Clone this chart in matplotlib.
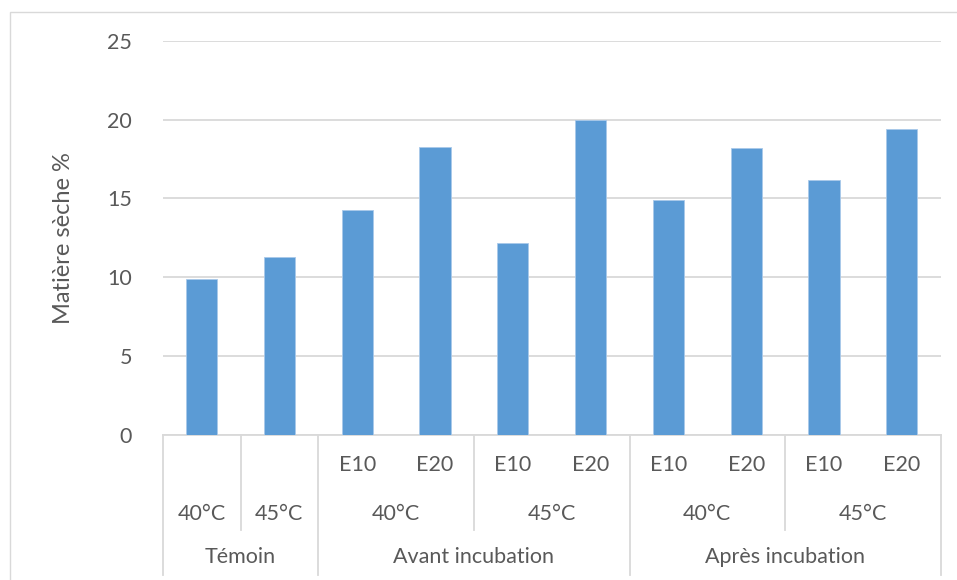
import matplotlib
matplotlib.use("Agg")
import matplotlib.pyplot as plt
from matplotlib.lines import Line2D
from matplotlib.patches import Rectangle

plt.rcParams['font.family'] = ['Lato', 'DejaVu Sans']

# Dry-matter content per sample
values = [9.9, 11.3, 14.3, 18.3, 12.2, 20.0, 14.9, 18.2, 16.2, 19.4]
level1 = ["", "", "E10", "E20", "E10", "E20", "E10", "E20", "E10", "E20"]
level2 = ["40°C", "45°C", "40°C", "45°C", "40°C", "45°C"]
level2_span = [(0, 1), (1, 2), (2, 4), (4, 6), (6, 8), (8, 10)]
level3 = ["Témoin", "Avant incubation", "Après incubation"]
level3_span = [(0, 2), (2, 6), (6, 10)]
yticks = [0, 5, 10, 15, 20, 25]
ylabel = "Matière sèche %"

W, H = 957, 580
fig = plt.figure(figsize=(W / 100, H / 100), dpi=100)

# outer chart frame (runs off the right/bottom edges)
fig.patches.append(Rectangle((10 / W, -0.05), 1.2, 1 - 12 / H + 0.05,
                             transform=fig.transFigure, fill=False,
                             edgecolor='#D9D9D9', linewidth=1.0))

left, right = 162.7 / W, 940.7 / W
bottom, top = 1 - 434.7 / H, 1 - 41 / H
ax = fig.add_axes([left, bottom, right - left, top - bottom])

n = len(values)
x = list(range(n))
ax.bar(x, values, width=0.4, color='#5B9BD5', edgecolor='#A9C9EA',
       linewidth=0.6, zorder=3)
ax.set_xlim(-0.5, n - 0.5)
ax.set_ylim(0, 25)
ax.set_yticks(yticks)
ax.set_yticklabels([str(t) for t in yticks], fontsize=15.5, color='#595959')
ax.tick_params(axis='y', length=0, pad=22)
ax.set_xticks([])
ax.grid(axis='y', color='#D9D9D9', linewidth=1.3, zorder=0)
for s in ['top', 'right', 'left']:
    ax.spines[s].set_visible(False)
ax.spines['bottom'].set_color('#D9D9D9')
ax.spines['bottom'].set_linewidth(1.3)
ax.set_ylabel(ylabel, fontsize=17, color='#595959', labelpad=24)

tr = ax.get_xaxis_transform()


def ypos(px):
    # convert a pixel row below the plot to axes-y
    return (H - px - bottom * H) / ((top - bottom) * H)


sep_col = '#D9D9D9'
# category separators
for i in range(n + 1):
    xe = i - 0.5
    if i in (0, 2, 6, 10):
        y_end = 575
    elif i in (1, 4, 8):
        y_end = 530
    else:
        continue
    ax.add_line(Line2D([xe, xe], [0, ypos(y_end)], transform=tr,
                       color=sep_col, linewidth=1.3, clip_on=False))

txt = dict(fontsize=15.5, color='#595959', ha='center', va='center',
           transform=tr, clip_on=False)
for i, lab in enumerate(level1):
    if lab:
        ax.text(i, ypos(465), lab, **txt)
for lab, (a, b) in zip(level2, level2_span):
    ax.text((a + b - 1) / 2, ypos(514), lab, **txt)
for lab, (a, b) in zip(level3, level3_span):
    ax.text((a + b - 1) / 2, ypos(557), lab, **txt)

fig.savefig("out.png", dpi=100)
